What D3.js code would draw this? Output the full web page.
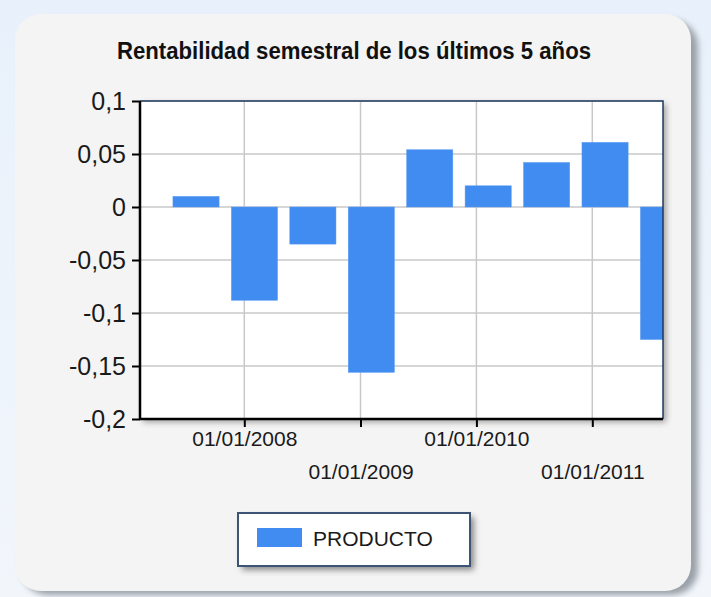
<!DOCTYPE html>
<html>
<head>
<meta charset="utf-8">
<script src="https://cdn.jsdelivr.net/npm/d3@7"></script>
<style>
    body { margin: 0; background: #eef4fb; }
    svg { display: block; }
    text { font-family: "Liberation Sans", Arial, sans-serif; }
</style>
</head>
<body>
<svg id="chart" width="711" height="597"></svg>
<script>
const title = 'Rentabilidad semestral de los últimos 5 años';
const seriesName = 'PRODUCTO';
// one bar per semester, 2S 2007 .. 2S 2011
const semesters = ['2S 2007', '1S 2008', '2S 2008', '1S 2009', '2S 2009', '1S 2010', '2S 2010', '1S 2011', '2S 2011'];
const values = [0.01, -0.088, -0.035, -0.156, 0.054, 0.02, 0.042, 0.061, -0.125];
const yTicks = [0.1, 0.05, 0, -0.05, -0.1, -0.15, -0.2];
const xTickDates = ['2008-01-01', '2009-01-01', '2010-01-01', '2011-01-01'];

const svg = d3.select('#chart');
const W = 711, H = 597;

// card background + shadow
const defs = svg.append('defs');
const blur = defs.append('filter').attr('id', 'shadow')
    .attr('x', '-10%').attr('y', '-10%').attr('width', '120%').attr('height', '120%');
blur.append('feGaussianBlur').attr('stdDeviation', 3);

defs.append('linearGradient').attr('id', 'bg')
    .attr('x1', 0).attr('y1', 0).attr('x2', 0).attr('y2', 1)
    .call(g => {
        g.append('stop').attr('offset', 0).attr('stop-color', '#e8f1fb');
        g.append('stop').attr('offset', 1).attr('stop-color', '#f2f6fb');
    });
svg.append('rect').attr('width', W).attr('height', H).attr('fill', 'url(#bg)');

svg.append('rect')
    .attr('x', 22).attr('y', 20).attr('width', 676).attr('height', 577 - 2)
    .attr('rx', 26)
    .attr('fill', '#9aa0a8')
    .attr('filter', 'url(#shadow)');
svg.append('rect')
    .attr('x', 15).attr('y', 14).attr('width', 676).attr('height', 577)
    .attr('rx', 26)
    .attr('fill', '#f4f4f4');

// title
svg.append('text')
    .attr('x', 354).attr('y', 59)
    .attr('text-anchor', 'middle')
    .attr('font-size', 23)
    .attr('font-weight', 'bold')
    .attr('fill', '#111')
    .attr('textLength', 474)
    .attr('lengthAdjust', 'spacingAndGlyphs')
    .text(title);

// plot area
const margin = { left: 140, top: 101, right: 663, bottom: 419 };
const pw = margin.right - margin.left;
const ph = margin.bottom - margin.top;
const g = svg.append('g').attr('transform', `translate(${margin.left},${margin.top})`);

const y = d3.scaleLinear().domain([-0.2, 0.1]).range([ph, 0]);
const xTime = d3.scaleTime()
    .domain([new Date(2008, 0, 1), new Date(2011, 0, 1)])
    .range([104.3, 452.3]);
const xBand = d3.scaleBand()
    .domain(semesters)
    .range([26.8, 552.7])
    .paddingInner(0.21)
    .paddingOuter(0.105);

const tickDates = xTickDates.map(s => d3.timeParse('%Y-%m-%d')(s));
const fmtComma = v => String(v).replace('.', ',');

// plot shadow
g.append('rect')
    .attr('x', 3).attr('y', 3).attr('width', pw).attr('height', ph)
    .attr('fill', '#777').attr('filter', 'url(#shadow)').attr('opacity', 0.7);
g.append('rect')
    .attr('width', pw).attr('height', ph)
    .attr('fill', '#fff');

// gridlines
g.append('g').selectAll('line.hgrid').data(yTicks).enter()
    .append('line').classed('hgrid', true)
    .attr('x1', 0).attr('x2', pw)
    .attr('y1', d => y(d)).attr('y2', d => y(d))
    .attr('stroke', '#c8c8c8').attr('stroke-width', 1.5);
g.append('g').selectAll('line.vgrid').data(tickDates).enter()
    .append('line').classed('vgrid', true)
    .attr('x1', d => xTime(d)).attr('x2', d => xTime(d))
    .attr('y1', 0).attr('y2', ph)
    .attr('stroke', '#c8c8c8').attr('stroke-width', 1.5);

// bars
defs.append('clipPath').attr('id', 'plotClip')
    .append('rect').attr('width', pw).attr('height', ph);
g.append('g').attr('clip-path', 'url(#plotClip)')
    .selectAll('rect.bar').data(values).enter()
    .append('rect').classed('bar', true)
    .attr('x', (d, i) => xBand(semesters[i]))
    .attr('width', xBand.bandwidth())
    .attr('y', d => y(Math.max(0, d)))
    .attr('height', d => Math.abs(y(d) - y(0)))
    .attr('fill', '#418cf0')
    .attr('stroke', '#5a9cf2').attr('stroke-width', 0.5);

// frame: top/right thin dark, left/bottom axes black
g.append('path')
    .attr('d', `M0,0H${pw}V${ph}`)
    .attr('fill', 'none').attr('stroke', '#1f3a5f').attr('stroke-width', 1.5);

// y axis
const yAxis = d3.axisLeft(y).tickValues(yTicks).tickSize(8).tickPadding(6).tickFormat(fmtComma);
g.append('g').call(yAxis)
    .call(a => a.select('.domain').attr('stroke', '#000').attr('stroke-width', 2.5).attr('d', `M0,0V${ph}`))
    .call(a => a.selectAll('.tick line').attr('stroke', '#000').attr('stroke-width', 2))
    .call(a => a.selectAll('.tick text')
        .attr('font-size', 25).attr('fill', '#1a1a1a')
        .attr('font-family', '"Liberation Sans", Arial, sans-serif'));

// x axis
const xAxis = d3.axisBottom(xTime).tickValues(tickDates).tickSize(8).tickPadding(4)
    .tickFormat(d3.timeFormat('%d/%m/%Y'));
g.append('g').attr('transform', `translate(0,${ph})`).call(xAxis)
    .call(a => a.select('.domain').attr('stroke', '#000').attr('stroke-width', 2.5).attr('d', `M0,0H${pw}`))
    .call(a => a.selectAll('.tick line').attr('stroke', '#000').attr('stroke-width', 2))
    .call(a => a.selectAll('.tick text')
        .attr('font-size', 21).attr('fill', '#1a1a1a')
        .attr('font-family', '"Liberation Sans", Arial, sans-serif')
        .attr('dy', null)
        .attr('y', (d, i) => i % 2 === 0 ? 27 : 60));

// legend
const lg = svg.append('g').attr('transform', 'translate(238,513)');
lg.append('rect')
    .attr('x', 4).attr('y', 4).attr('width', 232).attr('height', 53)
    .attr('fill', '#888').attr('filter', 'url(#shadow)');
lg.append('rect')
    .attr('width', 232).attr('height', 53)
    .attr('fill', '#fff').attr('stroke', '#3d5475').attr('stroke-width', 2);
lg.append('rect')
    .attr('x', 19).attr('y', 15).attr('width', 45).attr('height', 19)
    .attr('fill', '#418cf0');
lg.append('text')
    .attr('x', 75).attr('y', 33)
    .attr('font-size', 21).attr('fill', '#1a1a1a')
    .text(seriesName);
</script>
</body>
</html>
